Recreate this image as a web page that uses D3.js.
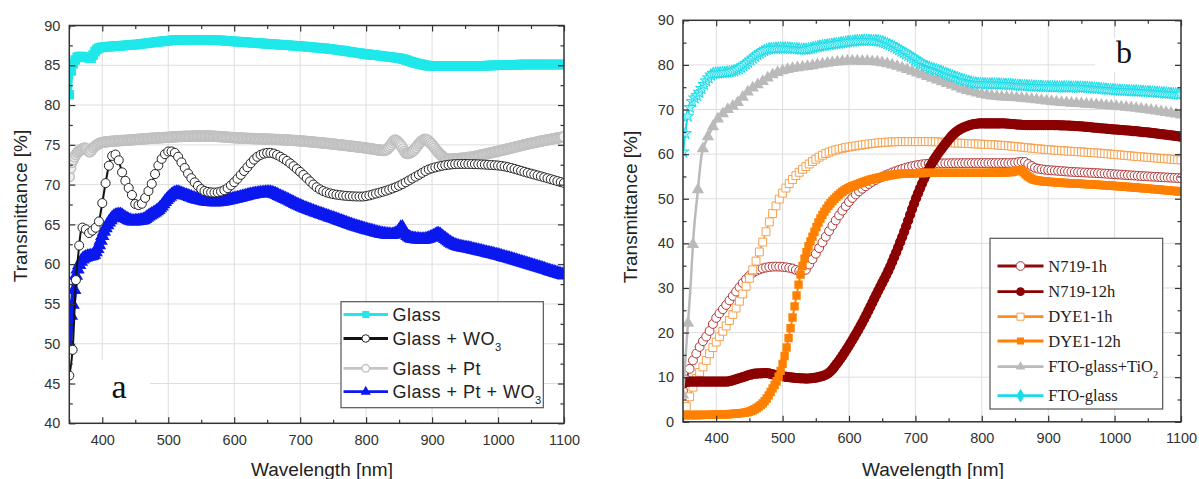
<!DOCTYPE html>
<html>
<head>
<meta charset="utf-8">
<script src="https://cdn.jsdelivr.net/npm/d3@7"></script>
<style>
  body { margin: 0; background: #fff; }
  svg { display: block; }
</style>
</head>
<body>
<div id="vis"></div>
<script>
// ---- data (wavelength nm, transmittance %) ----

// panel a
const glass = [[350,81.3],[353,84.3],[358,85.5],[365,86.1],[375,86],[383,85.9],[388,86.6],[396,87.2],[420,87.4],[450,87.6],[490,88],[520,88.2],[560,88.2],[600,88],[650,87.7],[700,87.4],[750,87],[800,86.4],[840,86],[855,85.8],[870,85.4],[885,85.1],[900,84.9],[950,84.9],[1000,85],[1050,85.1],[1100,85.1]];
const glassPt = [[350,71],[353,72.5],[357,73.3],[362,74],[368,74.4],[374,74.6],[381,74.1],[386,74.6],[392,75],[400,75.3],[440,75.6],[490,75.9],[540,76.1],[560,76.1],[600,75.9],[700,75.5],[750,75.1],[800,74.6],[828,74.3],[836,74.8],[844,75.6],[852,75],[862,73.9],[872,74.3],[882,75.3],[890,75.7],[898,75.2],[910,74],[924,73.2],[944,73.3],[1000,74.2],[1050,75.2],[1100,76]];
const glassWO3 = [[350,46],[356,50.5],[360,58],[364,61.5],[368,64.3],[372,64.7],[379,63.9],[386,64.3],[394,65.1],[399,67.2],[404,69.7],[409,72],[414,73.5],[419,73.8],[424,73.3],[429,71.8],[437,70.1],[444,68.9],[452,67.4],[460,67.6],[467,68.7],[475,70.1],[482,71.8],[492,73.5],[502,74.2],[510,74],[520,72.8],[530,71.4],[542,70.1],[555,69.2],[570,69],[585,69.3],[600,70.3],[618,72],[635,73.5],[653,74],[676,73.2],[700,71.6],[728,69.5],[758,68.7],[793,68.5],[816,68.9],[851,69.9],[875,71],[898,72],[944,72.6],[1000,72.4],[1049,71.4],[1100,70.2]];
const glassPtWO3 = [[350,50],[352,53],[356,55.5],[359,58],[364,59.7],[370,60.6],[376,60.9],[386,61.1],[394,62.2],[402,64],[412,65.5],[420,66.1],[427,66.2],[435,65.8],[447,65.4],[460,65.5],[470,66],[487,67],[500,68.3],[513,69],[525,68.7],[542,68.2],[571,67.8],[600,68.2],[630,68.8],[653,69],[675,68.3],[700,67.3],[752,65.7],[798,64.4],[839,63.7],[848,64],[854,64.7],[860,63.8],[871,63.2],[886,63.1],[902,63.5],[909,63.8],[918,63.3],[932,62.5],[960,61.9],[1000,61.1],[1049,59.9],[1100,58.6]];

// panel b
const n719_1h = [[350,7],[355,9.5],[361,12.3],[370,15.3],[378,17.6],[388,19.8],[398,22.8],[413,25.8],[428,28.8],[444,31.8],[456,33.5],[466,34.2],[489,34.8],[514,34.4],[526,33.8],[534,34],[541,35.5],[556,39.2],[571,43],[587,46.7],[607,50.5],[632,53.5],[662,55.7],[692,57.2],[727,57.9],[800,58],[843,58],[863,58.3],[873,57.5],[883,56.8],[920,56.2],[979,55.7],[1040,55.1],[1100,54.6]];
const n719_12h = [[350,8.5],[358,9],[413,9],[440,10],[459,10.8],[475,10.9],[489,10.5],[510,10],[537,9.7],[556,10.1],[570,11],[582,13.1],[602,17.6],[622,22.8],[642,28.8],[662,34.8],[682,42.2],[702,50.5],[722,57.2],[742,61.7],[760,64.8],[780,66.4],[800,66.9],[828,66.9],[870,66.5],[903,66.5],[950,66.2],[979,65.8],[1040,65],[1100,63.9]];
const dye1_1h = [[350,2],[355,3.4],[360,5.6],[370,9.7],[380,12.3],[393,16.1],[408,19.8],[423,23.5],[438,28],[453,33.3],[466,38.5],[481,45.2],[496,50.2],[516,54.5],[541,57.9],[566,60.2],[590,61.3],[617,62],[650,62.6],[680,62.8],[720,62.8],[760,62.5],[828,62],[900,61],[979,60.2],[1040,59.4],[1100,58.7]];
const dye1_12h = [[350,1.5],[400,1.6],[440,2],[460,3],[475,5],[485,7.5],[495,10.5],[505,16],[512,21],[520,27.5],[527,33],[537,38.5],[545,41.5],[555,45],[567,48],[587,51.2],[617,53.5],[650,54.9],[680,55.6],[730,55.8],[800,55.8],[845,56],[858,56.4],[868,55.2],[880,54.2],[920,53.6],[979,53.1],[1040,52.4],[1100,51.6]];
const ftoTiO2 = [[350,6],[355,17],[361,29.5],[366,42],[372,51.3],[378,59.8],[385,63],[391,65],[401,67.6],[413,69.5],[431,71.4],[448,74],[469,76.2],[489,78.1],[514,79.2],[534,79.6],[573,80.5],[602,80.9],[631,80.8],[660,80.2],[689,78.9],[718,77.4],[747,75.9],[775,74.4],[805,73.3],[863,72.5],[921,71.6],[979,71],[1037,70.2],[1100,68.8]];
const ftoGlass = [[350,60.5],[353,64],[356,67.6],[363,71.4],[373,73.5],[386,76.6],[396,78.1],[413,78.3],[431,78.9],[446,80.4],[461,82.2],[484,83.7],[504,83.8],[534,83.5],[553,84.1],[582,84.8],[622,85.5],[643,85.4],[660,84.6],[689,82.2],[718,79.6],[738,78.6],[758,77.4],[800,75.8],[830,75.7],[860,75.4],[903,75.1],[950,75],[1000,74.4],[1050,74],[1100,73.4]];

// axes
const xTicks = [400, 500, 600, 700, 800, 900, 1000, 1100];
const yTicksA = [40, 45, 50, 55, 60, 65, 70, 75, 80, 85, 90];
const yTicksB = [0, 10, 20, 30, 40, 50, 60, 70, 80, 90];

const WIDTH = 1199, HEIGHT = 479;
const SANS = "'Liberation Sans', Arial, sans-serif";
const SERIF = "'Liberation Serif', 'Times New Roman', serif";

const svg = d3.select("#vis").append("svg")
  .attr("width", WIDTH).attr("height", HEIGHT);

// find y on the drawn curve at given pixel xs (markers sit on the rendered path)
function pointsAlong(node, xs) {
  const L = node.getTotalLength();
  const pts = [];
  for (let l = 0; l <= L; l += 0.5) pts.push(node.getPointAtLength(l));
  pts.push(node.getPointAtLength(L));
  let j = 0;
  return xs.map(px => {
    while (j < pts.length - 2 && pts[j + 1].x < px) j++;
    const a = pts[j], b = pts[j + 1];
    let t = b.x === a.x ? 0 : (px - a.x) / (b.x - a.x);
    t = Math.max(0, Math.min(1, t));
    return [px, a.y + (b.y - a.y) * t];
  });
}

function drawSeries(g, s, x, y) {
  const line = d3.line().x(d => x(d[0])).y(d => y(d[1])).curve(d3.curveMonotoneX);
  const path = g.append("path").datum(s.data)
    .attr("d", line)
    .attr("fill", "none")
    .attr("stroke", s.color)
    .attr("stroke-width", s.lw)
    .attr("stroke-linejoin", "round");
  if (!s.symbol) return;
  const pts = pointsAlong(path.node(), d3.range(350, 1100.001, s.step).map(x));
  g.append("g").selectAll("path").data(pts).join("path")
    .attr("transform", d => `translate(${d[0]},${d[1]})`)
    .attr("d", d3.symbol().type(s.symbol).size(s.size))
    .attr("fill", s.fill)
    .attr("stroke", s.stroke || "none")
    .attr("stroke-width", s.sw || 0);
}

function drawLegend(box, items, font, fontSize, spacing) {
  const g = svg.append("g");
  g.append("rect")
    .attr("x", box.x).attr("y", box.y).attr("width", box.w).attr("height", box.h)
    .attr("fill", "#fff").attr("stroke", "#555").attr("stroke-width", 1.2);
  items.forEach(it => {
    g.append("line")
      .attr("x1", box.lx0).attr("x2", box.lx1).attr("y1", it.cy).attr("y2", it.cy)
      .attr("stroke", it.s.color).attr("stroke-width", 2.8);
    g.append("path")
      .attr("transform", `translate(${(box.lx0 + box.lx1) / 2},${it.cy})`)
      .attr("d", d3.symbol().type(it.s.lsymbol || it.s.symbol).size(it.s.lsize))
      .attr("fill", it.s.lfill || it.s.fill)
      .attr("stroke", it.s.stroke || "none")
      .attr("stroke-width", it.s.sw || 0);
    const t = g.append("text")
      .attr("x", box.tx).attr("y", it.cy).attr("dy", "0.35em")
      .attr("font-family", font).attr("font-size", fontSize)
      .attr("letter-spacing", spacing)
      .attr("fill", "#222")
      .text(it.label);
    if (it.sub) {
      t.append("tspan").attr("font-size", fontSize * 0.62).attr("dy", fontSize * 0.33)
        .text(it.sub);
    }
  });
}

function drawPanel(p) {
  const x = d3.scaleLinear().domain([350, 1100]).range([p.left, p.right]);
  const y = d3.scaleLinear().domain(p.yDomain).range([p.bottom, p.top]);
  const g = svg.append("g");

  // grid
  g.append("g").selectAll("line").data(d3.range(400, 1001, 100)).join("line")
    .attr("x1", d => x(d)).attr("x2", d => x(d))
    .attr("y1", p.top).attr("y2", p.bottom)
    .attr("stroke", "#dedede").attr("stroke-width", 1);
  g.append("g").selectAll("line").data(p.yTicks.slice(1, -1)).join("line")
    .attr("x1", p.left).attr("x2", p.right)
    .attr("y1", d => y(d)).attr("y2", d => y(d))
    .attr("stroke", "#dedede").attr("stroke-width", 1);

  // white patch behind the panel letter
  g.append("rect")
    .attr("x", p.patch[0]).attr("y", p.patch[1])
    .attr("width", p.patch[2]).attr("height", p.patch[3])
    .attr("fill", "#fff");
  g.append("text")
    .attr("x", p.letter[0]).attr("y", p.letter[1])
    .attr("text-anchor", "middle")
    .attr("font-family", SERIF).attr("font-size", p.letter[2])
    .attr("fill", "#111")
    .text(p.letter[3]);

  // series, clipped to the frame
  const clipId = "clip-" + p.name;
  svg.append("clipPath").attr("id", clipId).append("rect")
    .attr("x", p.left).attr("y", p.top)
    .attr("width", p.right - p.left).attr("height", p.bottom - p.top);
  const plot = g.append("g").attr("clip-path", `url(#${clipId})`);
  p.series.forEach(s => drawSeries(plot, s, x, y));

  // ticks (inward on all four sides)
  const minorX = d3.range(350, 1101, 50).filter(d => d % 100 !== 0);
  const minorY = p.minorY;
  const tickStyle = sel => {
    sel.select(".domain").remove();
    sel.selectAll(".tick line").attr("stroke", "#333").attr("stroke-width", 1.2);
    sel.selectAll("text").attr("font-family", SANS).attr("font-size", 14.5).attr("fill", "#333");
  };
  g.append("g").attr("transform", `translate(0,${p.bottom})`)
    .call(d3.axisBottom(x).tickValues(xTicks).tickSizeInner(-6).tickSizeOuter(0).tickPadding(11).tickFormat(d3.format("d")))
    .call(tickStyle);
  g.append("g").attr("transform", `translate(0,${p.bottom})`)
    .call(d3.axisBottom(x).tickValues(minorX).tickSizeInner(-3.5).tickSizeOuter(0).tickFormat(""))
    .call(tickStyle);
  g.append("g").attr("transform", `translate(0,${p.top})`)
    .call(d3.axisTop(x).tickValues(xTicks).tickSizeInner(-6).tickSizeOuter(0).tickFormat(""))
    .call(tickStyle);
  g.append("g").attr("transform", `translate(0,${p.top})`)
    .call(d3.axisTop(x).tickValues(minorX).tickSizeInner(-3.5).tickSizeOuter(0).tickFormat(""))
    .call(tickStyle);
  g.append("g").attr("transform", `translate(${p.left},0)`)
    .call(d3.axisLeft(y).tickValues(p.yTicks).tickSizeInner(-6).tickSizeOuter(0).tickPadding(9))
    .call(tickStyle);
  g.append("g").attr("transform", `translate(${p.left},0)`)
    .call(d3.axisLeft(y).tickValues(minorY).tickSizeInner(-3.5).tickSizeOuter(0).tickFormat(""))
    .call(tickStyle);
  g.append("g").attr("transform", `translate(${p.right},0)`)
    .call(d3.axisRight(y).tickValues(p.yTicks).tickSizeInner(-6).tickSizeOuter(0).tickFormat(""))
    .call(tickStyle);
  g.append("g").attr("transform", `translate(${p.right},0)`)
    .call(d3.axisRight(y).tickValues(minorY).tickSizeInner(-3.5).tickSizeOuter(0).tickFormat(""))
    .call(tickStyle);

  // frame
  g.append("rect")
    .attr("x", p.left).attr("y", p.top)
    .attr("width", p.right - p.left).attr("height", p.bottom - p.top)
    .attr("fill", "none").attr("stroke", "#333").attr("stroke-width", 1.5);

  // axis titles
  g.append("text")
    .attr("x", p.xTitle[0]).attr("y", p.xTitle[1])
    .attr("text-anchor", "middle")
    .attr("font-family", SANS).attr("font-size", 19).attr("fill", "#222")
    .text("Wavelength [nm]");
  g.append("text")
    .attr("transform", `translate(${p.yTitle[0]},${p.yTitle[1]}) rotate(-90)`)
    .attr("text-anchor", "middle").attr("dy", "0.35em")
    .attr("font-family", SANS).attr("font-size", 19).attr("fill", "#222")
    .text("Transmittance [%]");
}

// ---- series styles ----
const sGlass = { data: glass, color: "#1ee8ea", lw: 5, symbol: d3.symbolSquare, size: 92, lsize: 50, fill: "#1ee8ea", step: 3 };
const sWO3 = { data: glassWO3, color: "#111", lw: 2, symbol: d3.symbolCircle, size: 64, lsize: 45, fill: "#fff", stroke: "#222", sw: 1, step: 5 };
const sPt = { data: glassPt, color: "#c4c4c4", lw: 3, symbol: d3.symbolCircle, size: 80, lsize: 45, fill: "#f0f0f0", lfill: "#fff", stroke: "#c0c0c0", sw: 1.4, step: 2 };
const sPtWO3 = { data: glassPtWO3, color: "#0b18ee", lw: 6, symbol: d3.symbolTriangle, size: 90, lsize: 45, fill: "#0b18ee", step: 2.5 };

const sN1 = { data: n719_1h, color: "#8b0a0a", lw: 1.5, symbol: d3.symbolCircle, size: 62, lsize: 60, fill: "#fff", stroke: "#b03434", sw: 1, step: 5 };
const sN12 = { data: n719_12h, color: "#8b0000", lw: 2, symbol: d3.symbolCircle, size: 82, lsize: 60, fill: "#8b0000", step: 3 };
const sD1 = { data: dye1_1h, color: "#ff8c1a", lw: 1.5, symbol: d3.symbolSquare, size: 62, lsize: 50, fill: "#fff", stroke: "#f7a04e", sw: 1, step: 5 };
const sD12 = { data: dye1_12h, color: "#ff8000", lw: 2, symbol: d3.symbolSquare, size: 70, lsize: 50, fill: "#ff8000", step: 3 };
const sTi = { data: ftoTiO2, color: "#bababa", lw: 2.5, symbol: d3.symbolTriangle, size: 66, lsize: 40, fill: "#bababa", step: 7.5 };
const sFto = { data: ftoGlass, color: "#1cdbe8", lw: 2, symbol: d3.symbolStar, size: 46, lsymbol: d3.symbolDiamond, lsize: 45, fill: "#9ff3f7", lfill: "#1cdbe8", stroke: "#1cdbe8", sw: 1, step: 3.5 };

drawPanel({
  name: "a", left: 69.3, right: 564, top: 25.5, bottom: 423.3,
  yDomain: [40, 90], yTicks: yTicksA,
  minorY: d3.range(42.5, 90, 5),
  series: [sGlass, sPt, sPtWO3, sWO3],
  patch: [72, 360, 78, 61], letter: [119, 398, 34, "a"],
  xTitle: [322, 476], yTitle: [20, 206]
});

drawPanel({
  name: "b", left: 683, right: 1181, top: 20.3, bottom: 421.8,
  yDomain: [0, 90], yTicks: yTicksB,
  minorY: d3.range(5, 90, 10),
  series: [sN1, sD1, sN12, sD12, sTi, sFto],
  patch: [1095, 38, 80, 34], letter: [1124, 63, 32, "b"],
  xTitle: [933, 476], yTitle: [630, 207]
});

drawLegend(
  { x: 341, y: 301.7, w: 202.3, h: 106, lx0: 343.5, lx1: 388, tx: 392.5 },
  [
    { s: sGlass, cy: 314.5, label: "Glass" },
    { s: sWO3, cy: 338.5, label: "Glass + WO", sub: "3" },
    { s: sPt, cy: 368.3, label: "Glass + Pt" },
    { s: sPtWO3, cy: 391.7, label: "Glass + Pt + WO", sub: "3" }
  ],
  SANS, 18, 0.5
);

drawLegend(
  { x: 990, y: 238.3, w: 172.7, h: 170.7, lx0: 997.5, lx1: 1043.5, tx: 1048.3 },
  [
    { s: sN1, cy: 266, label: "N719-1h" },
    { s: sN12, cy: 291.7, label: "N719-12h" },
    { s: sD1, cy: 316.7, label: "DYE1-1h" },
    { s: sD12, cy: 341, label: "DYE1-12h" },
    { s: sTi, cy: 366.7, label: "FTO-glass+TiO", sub: "2" },
    { s: sFto, cy: 395.7, label: "FTO-glass" }
  ],
  SERIF, 16.5, 0
);
</script>
</body>
</html>
